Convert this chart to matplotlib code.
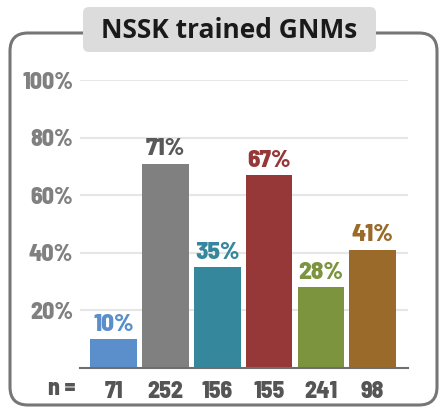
import matplotlib.pyplot as plt
from matplotlib.patches import FancyBboxPatch

categories = ['71', '252', '156', '155', '241', '98']
values = [10, 71, 35, 67, 28, 41]
bar_colors = ['#5b8fcb', '#808080', '#35879c', '#963838', '#7b943d', '#9a6a2a']
label_colors = ['#5b8fcb', '#595959', '#35879c', '#963838', '#7b943d', '#9a6a2a']
yticks = [20, 40, 60, 80, 100]
title = 'NSSK trained GNMs'

plt.rcParams['font.family'] = ['Barlow Semi Condensed', 'DejaVu Sans']
WT = 800

W, H = 440, 407
fig = plt.figure(figsize=(W / 100, H / 100), dpi=100)

# frame + title box drawn in pixel coords
bg = fig.add_axes([0, 0, 1, 1])
bg.set_xlim(0, W)
bg.set_ylim(H, 0)
bg.axis('off')
frame = FancyBboxPatch((10, 33), 427, 372, boxstyle='round,pad=0,rounding_size=18',
                       fc='none', ec='#767676', lw=2.2)
bg.add_patch(frame)
tbox = FancyBboxPatch((83, 7), 293, 45, boxstyle='round,pad=0,rounding_size=6',
                      fc='#dcdcdc', ec='none')
bg.add_patch(tbox)
bg.text(229.5, 31, title, ha='center', va='center', fontsize=19, fontweight='bold',
        color='#1a1a1a', family=['Open Sans', 'DejaVu Sans'])

# main axes
x0, x1, ytop, ybot = 80, 408, 80, 368
ax = fig.add_axes([x0 / W, 1 - ybot / H, (x1 - x0) / W, (ybot - ytop) / H])
xs = range(len(values))
ax.bar(xs, values, width=0.9, color=bar_colors, zorder=2)
ax.set_xlim(-0.65, 5.68)
ax.set_ylim(0, 100)
ax.set_yticks(yticks)
ax.set_yticklabels([f'{t}%' for t in yticks])
ax.tick_params(axis='y', length=0, pad=5, labelsize=17, labelcolor='#808080')
for lab in ax.get_yticklabels():
    lab.set_fontweight(WT)
ax.set_xticks(list(xs))
ax.set_xticklabels(categories)
ax.tick_params(axis='x', length=0, pad=9, labelsize=17, labelcolor='#555555')
for lab in ax.get_xticklabels():
    lab.set_fontweight(WT)
ax.grid(axis='y', color='#e6e6e6', lw=1.5, zorder=0)
for s in ['top', 'right', 'left']:
    ax.spines[s].set_visible(False)
ax.spines['bottom'].set_color('#6e6e6e')
ax.spines['bottom'].set_linewidth(1.5)

for x, v, c in zip(xs, values, label_colors):
    ax.text(x, v + 1.2, f'{v}%', ha='center', va='bottom', fontsize=18,
            fontweight=WT, color=c)

bg.text(75, 389, 'n =', ha='right', va='center', fontsize=17, fontweight=WT,
        color='#555555')

fig.savefig('out.png', dpi=100)
